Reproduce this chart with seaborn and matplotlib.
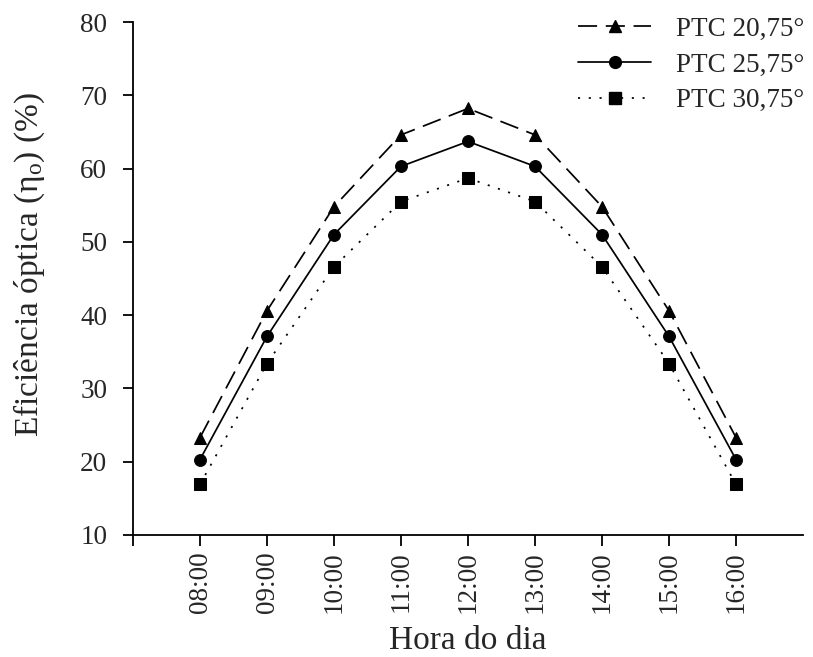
import numpy as np
import pandas as pd
import seaborn as sns
from matplotlib import pyplot as plt
from matplotlib.lines import Line2D

#%% data
horas = ['08:00', '09:00', '10:00', '11:00', '12:00', '13:00', '14:00', '15:00', '16:00']
series = ['PTC 20,75°', 'PTC 25,75°', 'PTC 30,75°']
ptc_20 = [23.3, 40.6, 54.8, 64.6, 68.2, 64.6, 54.8, 40.6, 23.3]
ptc_25 = [20.3, 37.1, 51.0, 60.3, 63.7, 60.3, 51.0, 37.1, 20.3]
ptc_30 = [16.9, 33.4, 46.6, 55.5, 58.7, 55.5, 46.6, 33.4, 16.9]
yticks = [10, 20, 30, 40, 50, 60, 70, 80]

df = pd.DataFrame({
    'hora': horas * 3,
    'serie': np.repeat(series, len(horas)),
    'eta': ptc_20 + ptc_25 + ptc_30,
})

#%% style
sns.set_style('ticks')
plt.rcParams['font.family'] = ['Liberation Serif', 'DejaVu Serif']
plt.rcParams['mathtext.fontset'] = 'custom'
plt.rcParams['mathtext.rm'] = 'Liberation Serif'
plt.rcParams['mathtext.it'] = 'Liberation Serif:italic'

marks = ['^', 'o', 's']
dash_list = [(11, 5), '', (1.2, 5)]
lw = 1.25

fig = plt.figure(figsize=(8.13, 6.57), dpi=100)
ax = fig.add_axes([0.1636, 0.1857, 0.8241, 0.7808])

sns.lineplot(data=df, x='hora', y='eta', style='serie', style_order=series,
             markers=marks, dashes=dash_list, color='k', linewidth=lw,
             markersize=8.5, markeredgecolor='k', legend=False, ax=ax)

ax.set_xlim(-1, 9)
ax.set_ylim(10, 80)
ax.set_xticks(range(-1, len(horas)))
ax.set_xticklabels([''] + horas, rotation=90, fontsize=19.5)
ax.set_yticks(yticks)
ax.set_yticklabels([str(v) for v in yticks], fontsize=19.5)
ax.tick_params(axis='x', length=8, width=1.3, pad=4, color='k')
ax.tick_params(axis='y', length=7.5, width=1.3, pad=11, color='k')
for s in ['left', 'bottom']:
    ax.spines[s].set_linewidth(1.3)
    ax.spines[s].set_color('k')
sns.despine(ax=ax)

ax.set_xlabel('Hora do dia', fontsize=24, labelpad=9)
ax.set_ylabel('Eficiência óptica (η$_\\mathrm{o}$) (%)', fontsize=24)
ax.yaxis.set_label_coords(-0.128, 0.528)

handles = [Line2D([], [], color='k', linewidth=lw, marker=m, markersize=8.5,
                  linestyle=(0, d) if d else '-')
           for m, d in zip(marks, dash_list)]
ax.legend(handles, series, loc='upper right', bbox_to_anchor=(1.038, 1.058),
          frameon=False, fontsize=19.5, handlelength=2.7, handletextpad=0.9,
          labelspacing=0.4, numpoints=1)

fig.savefig('out.png', dpi=100)
